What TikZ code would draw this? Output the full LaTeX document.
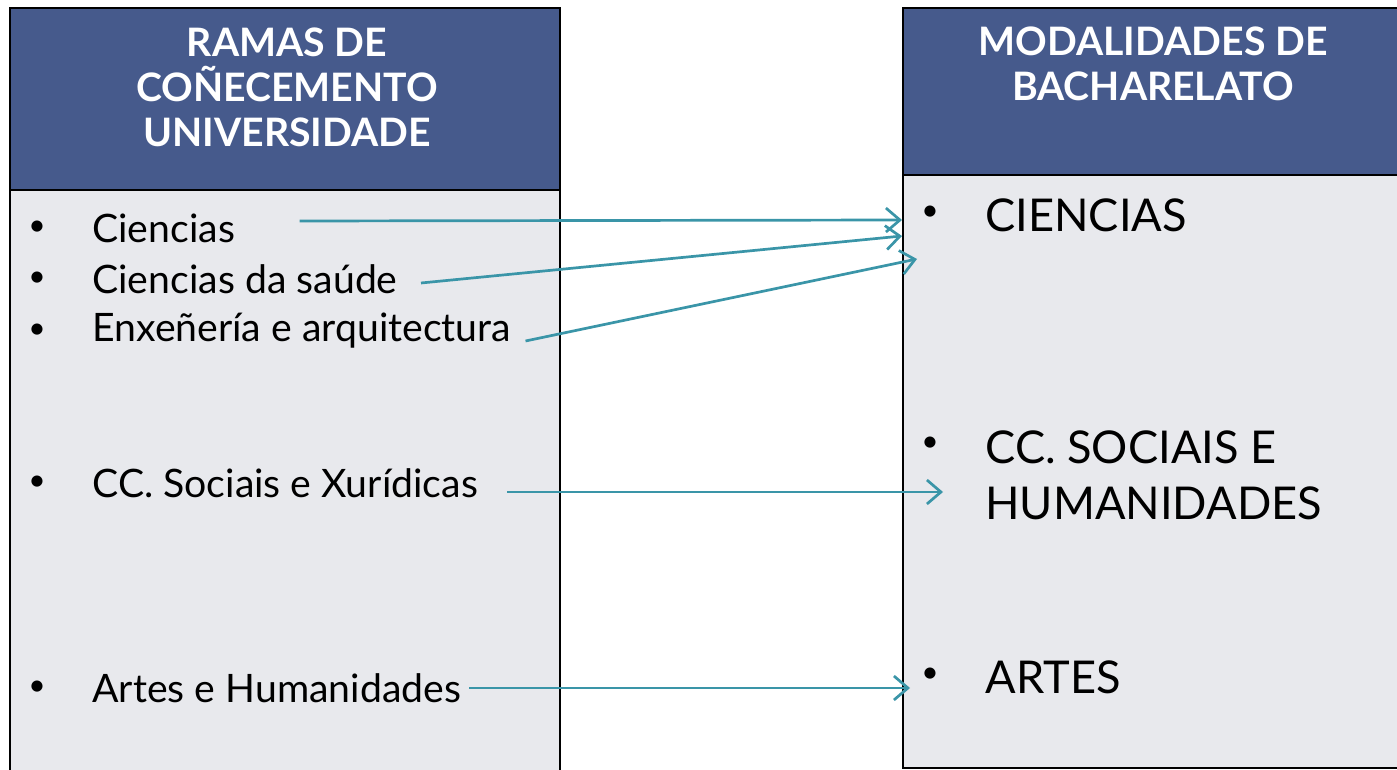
\documentclass[tikz,border=0pt]{standalone}
\usepackage{fontspec}
\setmainfont{Lato}
\usepackage{xcolor}
\usetikzlibrary{arrows.meta}
\definecolor{headblue}{HTML}{465A8C}
\definecolor{bodygray}{HTML}{E8E9ED}
\definecolor{arrowteal}{HTML}{3A95A8}
\tikzset{
  item/.style={anchor=west, inner sep=0pt, font=\fontsize{19.6}{24}\selectfont},
  dot/.style={inner sep=0pt, font=\fontsize{15}{18}\selectfont},
  mod/.style={anchor=west, inner sep=0pt, font=\fontsize{22.6}{28}\selectfont, align=left},
  head/.style={text=white, align=center, font=\bfseries\fontsize{19.6}{22.5}\selectfont},
  link/.style={->, arrowteal, line width=1.35pt, >={Straight Barb[length=7pt,width=12pt]}},
}

\begin{document}
\begin{tikzpicture}[x=0.5pt, y=-0.5pt]
    \useasboundingbox (0,0) rectangle (1397,770);
    \begin{scope}
        \clip (0,0) rectangle (1397,770);
        % left column
        \draw[line width=1.2pt, fill=bodygray] (10,190) rectangle (560,790);
        \draw[line width=1.2pt, fill=headblue] (10,8) rectangle (560,190);
        % right column
        \draw[line width=1.2pt, fill=bodygray] (903,175) rectangle (1410,768);
        \draw[line width=1.2pt, fill=headblue] (903,8) rectangle (1410,175);
    \end{scope}
    \node[head] (ramas) at (287,87) {RAMAS DE\\CO\~NECEMENTO\\UNIVERSIDADE};
    \node[head] (modal) at (1153,64) {MODALIDADES DE\\BACHARELATO};

    \foreach \y/\name/\txt in {228/cien/Ciencias, 279/saude/Ciencias da saúde,
        331/enxe/Enxeñería e arquitectura, 483/socia/CC. Sociais e Xurídicas,
        688/artes/Artes e Humanidades} {
        \node[dot] at (37,\y) {•};
        \node[item] (\name) at (92,\y) {\txt};
    }
    \node[dot] at (930,213) {•};
    \node[mod] (mcien) at (985,215) {CIENCIAS};
    \node[dot] at (930,444) {•};
    \node[mod] (msoc) at (985,475) {CC. SOCIAIS E\\HUMANIDADES};
    \node[dot] at (930,675) {•};
    \node[mod] (mart) at (985,677) {ARTES};

    \coordinate (t1) at (902,220);
    \coordinate (t2) at (902,236);
    \coordinate (t3) at (917,259);
    \coordinate (t4) at (943,492);
    \coordinate (t5) at (910,688);
    \draw[link] (cien.east) ++(64,-7) -- (t1);
    \draw[link] (saude.east) ++(23,4) -- (t2);
    \draw[link] (enxe.east) ++(14,10) -- (t3);
    \draw[link] (socia.east) ++(29,9) -- (t4);
    \draw[link] (artes.east) ++(8,0) -- (t5);
\end{tikzpicture}
\end{document}
